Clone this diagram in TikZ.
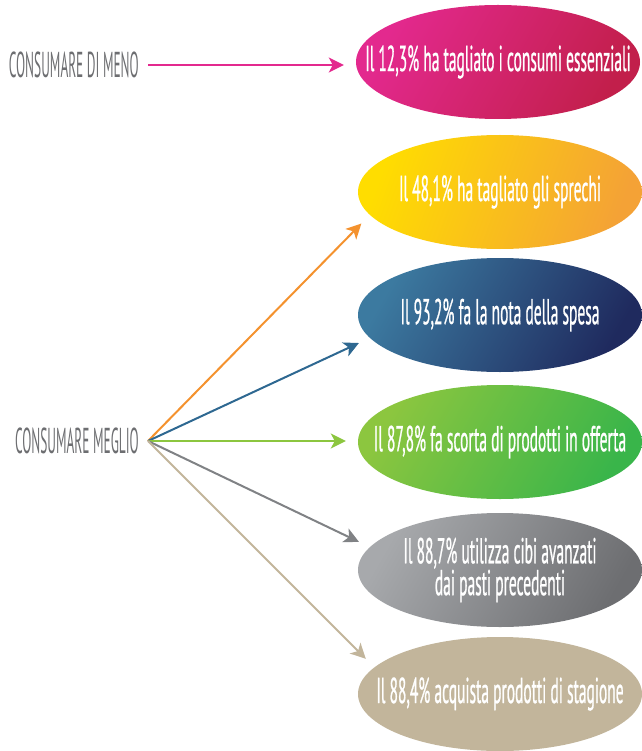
\documentclass[tikz,border=0pt]{standalone}
\usepackage{fontspec}
\newfontfamily\bollafont{PT Sans}[FakeStretch=0.43, FakeBold=0.6]
\newfontfamily\vocefont{PT Sans}[FakeStretch=0.37]
\usetikzlibrary{shapes.geometric, arrows.meta}

\definecolor{grigiotesto}{HTML}{6D6E71}
\definecolor{magentaA}{HTML}{E3298E}
\definecolor{magentaB}{HTML}{C21F4B}
\definecolor{gialloA}{HTML}{FFDD00}
\definecolor{gialloB}{HTML}{F4A236}
\definecolor{bluA}{HTML}{3C7AA0}
\definecolor{bluB}{HTML}{1F2A5E}
\definecolor{verdeA}{HTML}{8CC63F}
\definecolor{verdeB}{HTML}{39B54A}
\definecolor{grigioA}{HTML}{A7A9AC}
\definecolor{grigioB}{HTML}{6D6E71}
\definecolor{beige}{HTML}{C2B59B}
\definecolor{arancio}{HTML}{F4922E}
\definecolor{blufreccia}{HTML}{2E6891}
\definecolor{grigiofreccia}{HTML}{808285}

\begin{document}
\begin{tikzpicture}[x=1pt, y=-1pt,
	voce/.style={text=grigiotesto, inner xsep=9pt, inner ysep=0pt, font=\vocefont\fontsize{36}{36}\selectfont},
	bolla/.style={ellipse, minimum width=284pt, minimum height=114pt, inner xsep=-80pt, inner ysep=-30pt, text=white, align=center, font=\bollafont\fontsize{36}{27}\selectfont},
	freccia/.style={line width=2pt, -{Stealth[length=15pt, width=15pt, inset=4pt]}, shorten >=12pt}]
		\useasboundingbox (0,0) rectangle (641,751);
		% voci a sinistra
		\node[voce, anchor=east] (meno) at (148, 65) {CONSUMARE DI MENO};
		\node[voce, anchor=east] (meglio) at (148, 441) {CONSUMARE MEGLIO};
		% bolle
		\node[bolla, left color=magentaA, right color=magentaB, shading angle=60] (essenziali) at (498, 62) {Il 12,3\% ha tagliato i consumi essenziali};
		\node[bolla, left color=gialloA, right color=gialloB, shading angle=70] (sprechi) at (500, 192) {Il 48,1\% ha tagliato gli sprechi};
		\node[bolla, left color=bluA, right color=bluB, shading angle=60] (spesa) at (500, 315) {Il 93,2\% fa la nota della spesa};
		\node[bolla, left color=verdeA, right color=verdeB, shading angle=60] (offerta) at (500, 442) {Il 87,8\% fa scorta di prodotti in offerta};
		\node[bolla, left color=grigioA, right color=grigioB, shading angle=60] (avanzi) at (500, 570) {Il 88,7\% utilizza cibi avanzati\\dai pasti precedenti};
		\node[bolla, fill=beige] (stagione) at (500, 694) {Il 88,4\% acquista prodotti di stagione};
		% frecce
		\draw[freccia, magentaA] (meno.east) -- (meno.east -| essenziali.west);
		\draw[freccia, arancio] (meglio.east) -- (sprechi.190);
		\draw[freccia, blufreccia] (meglio.east) -- (spesa.190);
		\draw[freccia, verdeA] (meglio.east) -- (meglio.east -| offerta.west);
		\draw[freccia, grigiofreccia] (meglio.east) -- (avanzi.170);
		\draw[freccia, beige] (meglio.east) -- (stagione.168);
	\end{tikzpicture}
\end{document}
